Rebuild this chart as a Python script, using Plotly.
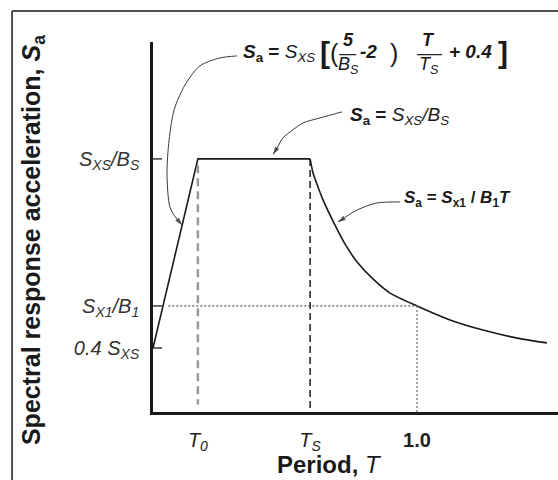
import plotly.graph_objects as go

# ---------------- data (units: T in s, Sa normalised so that SXS/BS = 1) -------------
T0 = 0.170
TS = 0.595
SA0 = 0.253          # 0.4 SXS
SA_PLATEAU = 1.0     # SXS/BS
SA_1 = 0.419         # SX1/B1 at T = 1.0
Y_TOP = 1.462        # top of the Sa axis

ramp_T = [0.0, T0, TS]
ramp_Sa = [SA0, SA_PLATEAU, SA_PLATEAU]

decay_T = [0.595, 0.606, 0.625, 0.644, 0.689, 0.727, 0.773, 0.833, 0.898, 1.0, 1.125, 1.250, 1.379, 1.492]
decay_Sa = [1.0, 0.945, 0.889, 0.838, 0.739, 0.664, 0.593, 0.526, 0.470, 0.419, 0.364, 0.324, 0.292, 0.273]

ytick_vals = [SA0, SA_1, SA_PLATEAU]
ytick_text = ["<i>0.4 S<sub>XS</sub></i>", "<i>S<sub>X1</sub>/B<sub>1</sub></i>", "<i>S<sub>XS</sub>/B<sub>S</sub></i>"]
xtick_vals = [T0, TS, 1.0]
xtick_text = ["<i>T<sub>0</sub></i>", "<i>T<sub>S</sub></i>", "<b>1.0</b>"]

# leader curves for the equation call-outs
lead1_T = [0.318, 0.254, 0.178, 0.121, 0.080, 0.061, 0.053, 0.064, 0.087, 0.110]
lead1_Sa = [1.407, 1.399, 1.368, 1.292, 1.194, 1.075, 0.945, 0.810, 0.767, 0.739]
lead2_T = [0.716, 0.633, 0.568, 0.530, 0.492, 0.470, 0.455]
lead2_Sa = [1.186, 1.162, 1.142, 1.115, 1.083, 1.043, 1.018]
lead3_T = [0.936, 0.848, 0.773, 0.701]
lead3_Sa = [0.830, 0.826, 0.798, 0.751]

FONT = "Arial, Liberation Sans, Helvetica, sans-serif"
INK = "#1a1a1a"

fig = go.Figure()

# spectrum
fig.add_trace(go.Scatter(x=ramp_T, y=ramp_Sa, mode="lines",
                         line=dict(color=INK, width=1.6), hoverinfo="skip", cliponaxis=False))
fig.add_trace(go.Scatter(x=decay_T, y=decay_Sa, mode="lines",
                         line=dict(color=INK, width=1.6, shape="spline", smoothing=0.6),
                         hoverinfo="skip"))

# reference lines
fig.add_trace(go.Scatter(x=[T0, T0], y=[0.975, 0.03], mode="lines",
                         line=dict(color="#9a9a9a", width=2.5, dash="8px,5px"), hoverinfo="skip"))
fig.add_trace(go.Scatter(x=[TS, TS], y=[SA_PLATEAU, 0.0], mode="lines",
                         line=dict(color=INK, width=1.5, dash="7px,4px"), hoverinfo="skip"))
fig.add_trace(go.Scatter(x=[0.058, 1.0], y=[SA_1, SA_1], mode="lines",
                         line=dict(color="#333333", width=1, dash="2px,2px"), hoverinfo="skip"))
fig.add_trace(go.Scatter(x=[1.0, 1.0], y=[SA_1, 0.0], mode="lines",
                         line=dict(color="#888888", width=1.5, dash="2px,2px"), hoverinfo="skip"))

# leader curves with arrow heads
for lx, ly in [(lead1_T, lead1_Sa), (lead2_T, lead2_Sa), (lead3_T, lead3_Sa)]:
    fig.add_trace(go.Scatter(
        x=lx, y=ly, mode="lines+markers",
        line=dict(color="#3a3a3a", width=1, shape="spline", smoothing=0.8),
        marker=dict(symbol="arrow", angleref="previous",
                    size=[0] * (len(lx) - 1) + [8], color="#222222", line=dict(width=0)),
        hoverinfo="skip"))

# y-axis tick marks crossing the axis
shapes = []
for v in ytick_vals:
    shapes.append(dict(type="line", xref="x", yref="y", xsizemode="pixel", xanchor=0,
                       x0=-6, x1=9, y0=v, y1=v, line=dict(color=INK, width=1.3)))
# fraction bars
shapes.append(dict(type="line", xref="x", yref="y", x0=0.705, x1=0.770, y0=1.412, y1=1.412,
                   line=dict(color=INK, width=1.2)))
shapes.append(dict(type="line", xref="x", yref="y", x0=1.0, x1=1.095, y0=1.412, y1=1.412,
                   line=dict(color=INK, width=1.2)))
# outer frame (left and top)
shapes.append(dict(type="line", xref="paper", yref="paper", x0=-0.348, x1=-0.348, y0=1.084, y1=-0.2,
                   line=dict(color=INK, width=1.5)))
shapes.append(dict(type="line", xref="paper", yref="paper", x0=-0.348, x1=1.0, y0=1.084, y1=1.084,
                   line=dict(color=INK, width=1.5)))

ann = []
def txt(x, y, s, size=19, xanchor="center", xref="x", yref="paper", angle=0, color=INK):
    # y given in Sa units unless yref is paper for titles
    ann.append(dict(x=x, y=y, xref=xref, yref=yref, text=s, showarrow=False,
                    xanchor=xanchor, yanchor="middle", textangle=angle,
                    font=dict(family=FONT, size=size, color=color)))

def eq(x, sa, s, size=19, xanchor="center"):
    txt(x, sa / Y_TOP, s, size=size, xanchor=xanchor)

# equation 1
eq(0.335, 1.42, "<b><i>S</i><sub>a</sub> =</b> <i>S<sub>XS</sub></i>", xanchor="left")
eq(0.652, 1.42, "<b>[</b>", size=30)
eq(0.688, 1.42, "(", size=25)
eq(0.742, 1.468, "<b><i>5</i></b>", size=18)
eq(0.740, 1.368, "<i>B<sub>S</sub></i>", size=18)
eq(0.818, 1.425, "<b><i>-2</i></b>")
eq(0.912, 1.42, ")", size=25)
eq(1.044, 1.468, "<b><i>T</i></b>", size=18)
eq(1.047, 1.368, "<i>T<sub>S</sub></i>", size=18)
eq(1.203, 1.425, "<b><i>+ 0.4</i></b>")
eq(1.325, 1.42, "<b>]</b>", size=30)
# equation 2
eq(0.737, 1.170, "<b><i>S</i><sub>a</sub> =</b> <i>S<sub>XS</sub>/B<sub>S</sub></i>", xanchor="left")
# equation 3
eq(0.945, 0.842, "<b><i>S</i><sub>a</sub> = <i>S</i><sub>x1</sub> / <i>B</i><sub>1</sub><i>T</i></b>",
   size=17, xanchor="left")

# axis titles
txt(-0.296, 0.465, "<b>Spectral response acceleration, <i>S</i><sub>a</sub></b>", size=25,
    xref="paper", angle=-90)
txt(0.437, -0.143, "<b>Period,</b> <i>T</i>", size=24, xref="paper")

fig.update_layout(
    width=558, height=480,
    margin=dict(l=153, r=0, t=42, b=68, autoexpand=False),
    paper_bgcolor="white", plot_bgcolor="white",
    showlegend=False,
    shapes=shapes, annotations=ann,
    xaxis=dict(range=[0, 1.534], showgrid=False, zeroline=False, automargin=False,
               showline=True, linecolor=INK, linewidth=2.5,
               tickmode="array", tickvals=xtick_vals, ticktext=xtick_text,
               ticks="", ticklabelstandoff=8,
               tickfont=dict(family=FONT, size=20, color="#222222")),
    yaxis=dict(range=[0, Y_TOP], showgrid=False, zeroline=False, automargin=False,
               showline=True, linecolor=INK, linewidth=2.5,
               tickmode="array", tickvals=ytick_vals, ticktext=ytick_text,
               ticks="", ticklabelstandoff=7,
               tickfont=dict(family=FONT, size=20, color="#333333")),
)

fig.write_html("out.html", config={"displayModeBar": False},
               post_script="document.body.style.margin='0';document.body.style.padding='0';")
